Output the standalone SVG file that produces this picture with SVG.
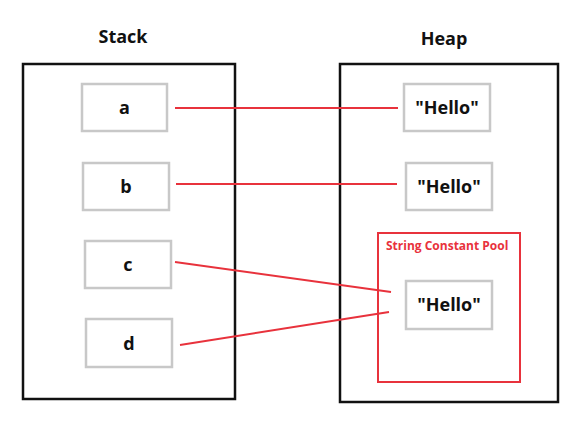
<svg xmlns="http://www.w3.org/2000/svg" width="583" height="432" viewBox="0 0 583 432">
<style>
  .title { font-family: "Open Sans", "Noto Sans", sans-serif; font-weight: bold; font-size: 18px; fill: #111; text-anchor: middle; }
  .area { fill: none; stroke: #111; stroke-width: 2.5; }
  .cell { fill: #fff; stroke: #c8c8c8; stroke-width: 2.5; }
  .lbl { font-family: "Open Sans", "Noto Sans", sans-serif; font-weight: bold; font-size: 18px; fill: #111; text-anchor: middle; }
  .pool { fill: none; stroke: #e8323c; stroke-width: 2; }
  .poollbl { font-family: "Open Sans", "Noto Sans", sans-serif; font-weight: bold; font-size: 12px; fill: #e8323c; }
  .conn { stroke: #e8323c; stroke-width: 2; fill: none; }
</style>
<rect width="583" height="432" fill="#fff"/>
<g id="stack">
  <text class="title" x="123" y="43">Stack</text>
  <rect class="area" x="23" y="64" width="212" height="335"/>
</g>
<g id="heap">
  <text class="title" x="444" y="45">Heap</text>
  <rect class="area" x="340" y="64" width="218" height="338"/>
</g>
<g id="pool">
  <rect class="pool" x="378" y="233" width="142" height="149"/>
  <text class="poollbl" x="386" y="250">String Constant Pool</text>
</g>
<g id="a"><rect class="cell" x="82" y="84" width="85" height="47"/><text class="lbl" x="124.5" y="114">a</text></g>
<g id="b"><rect class="cell" x="83" y="163" width="86" height="47"/><text class="lbl" x="126" y="193">b</text></g>
<g id="c"><rect class="cell" x="85" y="241" width="86" height="47"/><text class="lbl" x="128" y="271">c</text></g>
<g id="d"><rect class="cell" x="86" y="319" width="86" height="48"/><text class="lbl" x="129" y="350">d</text></g>
<g id="hello1"><rect class="cell" x="404" y="84" width="86" height="47"/><text class="lbl" x="447" y="114">"Hello"</text></g>
<g id="hello2"><rect class="cell" x="406" y="163" width="86" height="47"/><text class="lbl" x="449" y="193">"Hello"</text></g>
<g id="hello3"><rect class="cell" x="406" y="281" width="86" height="48"/><text class="lbl" x="449" y="311">"Hello"</text></g>
<g id="connectors">
  <line class="conn" x1="175" y1="108" x2="398" y2="108"/>
  <line class="conn" x1="176" y1="184" x2="397" y2="184"/>
  <line class="conn" x1="175" y1="262" x2="391" y2="292"/>
  <line class="conn" x1="180" y1="345" x2="389" y2="312"/>
</g>
</svg>
